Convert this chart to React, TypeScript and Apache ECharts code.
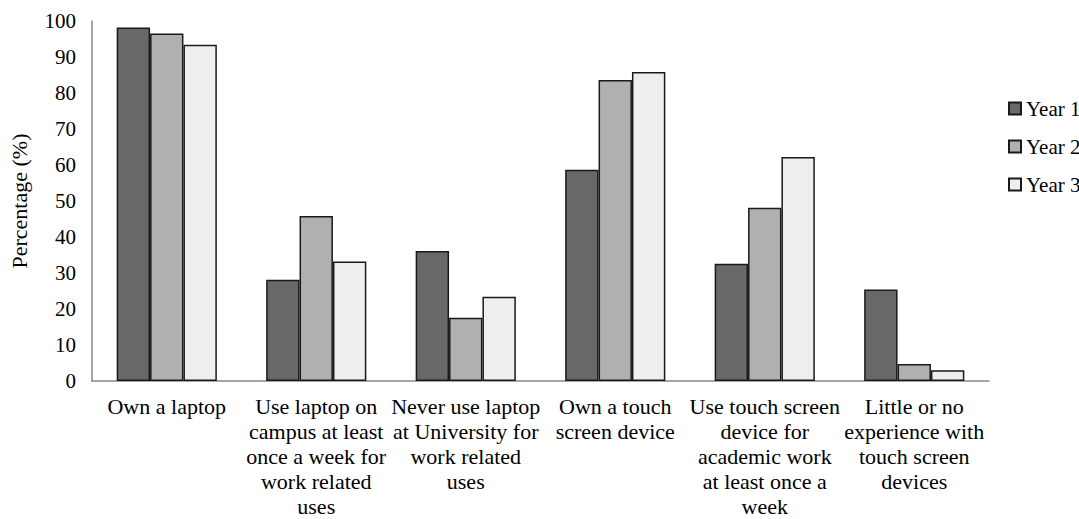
import React, { useEffect, useRef } from "react";
import * as echarts from "echarts";

const categories = [
  "Own a laptop",
  "Use laptop on\ncampus at least\nonce a week for\nwork related\nuses",
  "Never use laptop\nat University for\nwork related\nuses",
  "Own a touch\nscreen device",
  "Use touch screen\ndevice for\nacademic work\nat least once a\nweek",
  "Little or no\nexperience with\ntouch screen\ndevices",
];
const seriesNames = ["Year 1", "Year 2", "Year 3"];
const year1 = [98.2, 28.1, 36.1, 58.7, 32.6, 25.4];
const year2 = [96.5, 45.8, 17.6, 83.6, 48.1, 4.7];
const year3 = [93.4, 33.2, 23.4, 85.8, 62.2, 3.0];
const colors = ["#686868", "#b0b0b0", "#eeeeee"];

const FONT = "Times New Roman, Liberation Serif, serif";

export default function App() {
  const ref = useRef<HTMLDivElement>(null);
  useEffect(() => {
    if (!ref.current) return;
    const chart = echarts.init(ref.current, undefined, { renderer: "svg" });
    const data = [year1, year2, year3];
    chart.setOption({
      animation: false,
      backgroundColor: "#ffffff",
      textStyle: { fontFamily: FONT, color: "#000" },
      grid: { left: 83, right: 90, top: 21, bottom: 133, containLabel: false },
      legend: {
        orient: "vertical",
        left: 1003,
        top: 93,
        itemWidth: 12,
        itemHeight: 12,
        itemGap: 17,
        icon: "rect",
        textStyle: { fontFamily: FONT, fontSize: 21, color: "#000", lineHeight: 20 },
        data: seriesNames,
      },
      xAxis: {
        type: "category",
        data: categories,
        axisLine: { show: true, lineStyle: { color: "#888", width: 1.5 } },
        axisTick: { show: false },
        axisLabel: {
          interval: 0,
          fontFamily: FONT,
          fontSize: 22,
          color: "#000",
          lineHeight: 25,
          margin: 13,
          align: "center",
        },
      },
      yAxis: {
        type: "value",
        min: 0,
        max: 100,
        interval: 10,
        name: "Percentage (%)",
        nameLocation: "middle",
        nameGap: 62,
        nameTextStyle: { fontFamily: FONT, fontSize: 22, color: "#000" },
        axisLine: { show: true, lineStyle: { color: "#888", width: 1.5 } },
        axisTick: { show: false },
        splitLine: { show: false },
        axisLabel: { fontFamily: FONT, fontSize: 21, color: "#000", margin: 16 },
      },
      series: seriesNames.map((name, i) => ({
        name,
        type: "bar",
        data: data[i],
        barGap: "0%",
        barCategoryGap: "33%",
        itemStyle: { color: colors[i], borderColor: "#1a1a1a", borderWidth: 1.5 },
      })),
    });
    return () => chart.dispose();
  }, []);
  return (
    <div
      ref={ref}
      style={{ position: "fixed", left: 0, top: 0, width: 1079, height: 519 }}
    />
  );
}
